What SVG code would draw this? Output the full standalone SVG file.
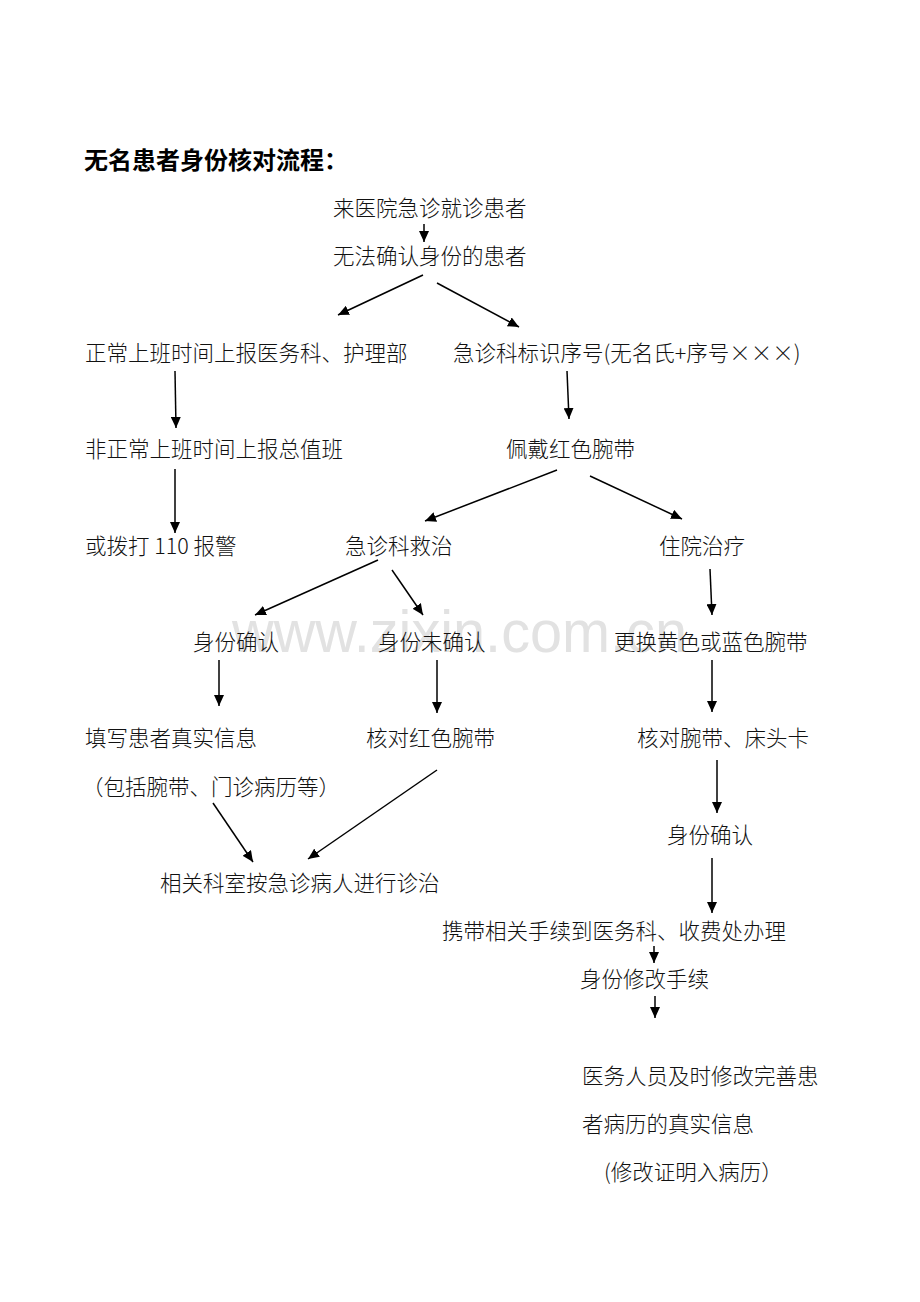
<svg xmlns="http://www.w3.org/2000/svg" width="920" height="1302" viewBox="0 0 920 1302">
<defs>
<marker id="ah" markerUnits="userSpaceOnUse" markerWidth="12" markerHeight="10" refX="11" refY="5" orient="auto">
<path d="M0,0 L11,5 L0,10 z" fill="#000"/>
</marker>
<style>
.t{font-family:"Noto Sans CJK SC","Liberation Sans",sans-serif;font-size:21.5px;fill:#111;font-weight:300}
.h{font-family:"Noto Sans CJK SC","Liberation Sans",sans-serif;font-size:24px;fill:#000;font-weight:bold}
.wm{font-family:"Liberation Sans",sans-serif;font-size:60px;fill:#e2e2e2}
.c line{stroke:#000;stroke-width:1.5;marker-end:url(#ah)}
</style>
</defs>
<rect width="920" height="1302" fill="#fff"/>
<text class="wm" x="232" y="652" textLength="455" lengthAdjust="spacingAndGlyphs">www.zixin.com.cn</text>
<text class="h" x="84" y="169">无名患者身份核对流程：</text>
<g id="n1"><text class="t" x="333" y="216">来医院急诊就诊患者</text></g>
<g id="n2"><text class="t" x="333" y="264">无法确认身份的患者</text></g>
<g id="n3"><text class="t" x="85" y="361">正常上班时间上报医务科、护理部</text></g>
<g id="n4"><text class="t" x="453" y="361">急诊科标识序号(无名氏+序号×××)</text></g>
<g id="n5"><text class="t" x="85" y="457">非正常上班时间上报总值班</text></g>
<g id="n6"><text class="t" x="506" y="457">佩戴红色腕带</text></g>
<g id="n7"><text class="t" x="85" y="554">或拨打 110 报警</text></g>
<g id="n8"><text class="t" x="345" y="554">急诊科救治</text></g>
<g id="n9"><text class="t" x="659" y="554">住院治疗</text></g>
<g id="n10"><text class="t" x="193" y="650">身份确认</text></g>
<g id="n11"><text class="t" x="378" y="650">身份未确认</text></g>
<g id="n12"><text class="t" x="614" y="650">更换黄色或蓝色腕带</text></g>
<g id="n13"><text class="t" x="85" y="746">填写患者真实信息</text><text class="t" x="82" y="795">（包括腕带、门诊病历等）</text></g>
<g id="n14"><text class="t" x="366" y="746">核对红色腕带</text></g>
<g id="n15"><text class="t" x="637" y="746">核对腕带、床头卡</text></g>
<g id="n16"><text class="t" x="667" y="843">身份确认</text></g>
<g id="n17"><text class="t" x="160" y="891">相关科室按急诊病人进行诊治</text></g>
<g id="n18"><text class="t" x="442" y="939">携带相关手续到医务科、收费处办理</text></g>
<g id="n19"><text class="t" x="580" y="987">身份修改手续</text></g>
<g id="n20"><text class="t" x="582" y="1084">医务人员及时修改完善患</text><text class="t" x="582" y="1132">者病历的真实信息</text><text class="t" x="604" y="1180">(修改证明入病历）</text></g>
<g id="connectors" class="c">
<line x1="424" y1="224" x2="424" y2="242"/>
<line x1="423" y1="275" x2="338" y2="315"/>
<line x1="437" y1="283" x2="519" y2="327"/>
<line x1="175" y1="371" x2="176" y2="428"/>
<line x1="175" y1="469" x2="175" y2="533"/>
<line x1="567" y1="371" x2="569" y2="419"/>
<line x1="557" y1="470" x2="425" y2="521"/>
<line x1="590" y1="476" x2="682" y2="519"/>
<line x1="378" y1="560" x2="255" y2="615"/>
<line x1="392" y1="570" x2="423" y2="615"/>
<line x1="710" y1="569" x2="712" y2="615"/>
<line x1="219" y1="660" x2="219" y2="706"/>
<line x1="437" y1="660" x2="437" y2="713"/>
<line x1="712" y1="660" x2="712" y2="712"/>
<line x1="717" y1="760" x2="717" y2="813"/>
<line x1="712" y1="858" x2="712" y2="913"/>
<line x1="213" y1="803" x2="253" y2="862"/>
<line x1="437" y1="770" x2="308" y2="859"/>
<line x1="654" y1="946" x2="654" y2="963"/>
<line x1="655" y1="996" x2="655" y2="1018"/>
</g>
</svg>
